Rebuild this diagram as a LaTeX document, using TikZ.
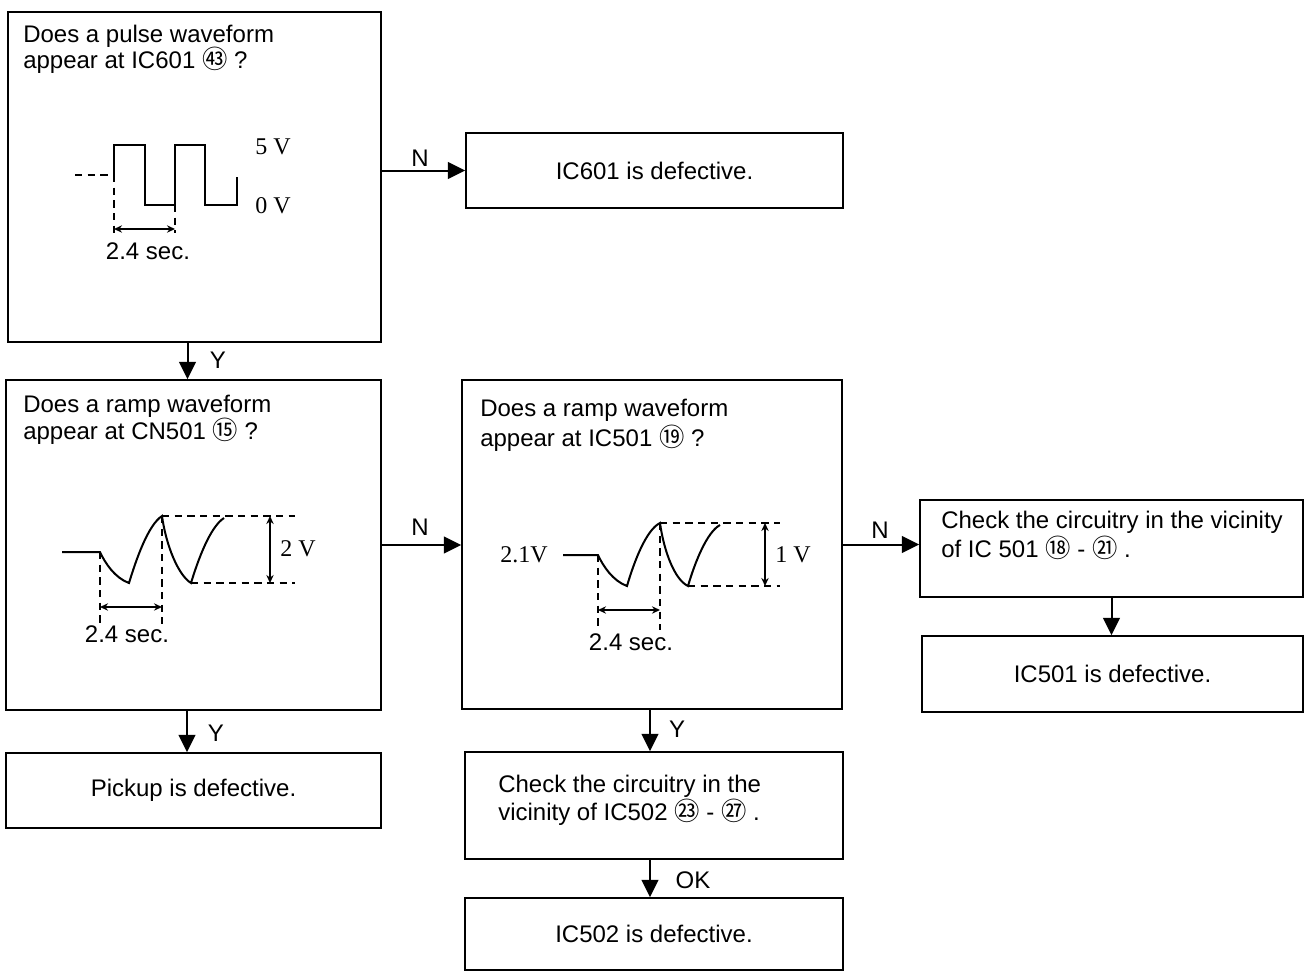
\documentclass[tikz,border=0pt]{standalone}
\usepackage{fontspec}
\setmainfont{Liberation Sans}
\newfontfamily\serf{Liberation Serif}
\newfontfamily\cjkc{Noto Sans CJK JP}
\usetikzlibrary{arrows.meta}
\newcommand\txtfont{\fontsize{18pt}{19.5pt}\selectfont}
\newcommand\encirc[1]{{\cjkc\fontsize{19pt}{20pt}\selectfont #1}}
\begin{document}
\begin{tikzpicture}[x=0.75pt,y=-0.75pt,
  bx/.style 2 args={draw, line width=1.2pt, minimum width=#1*0.75pt, minimum height=#2*0.75pt, inner sep=0pt, align=center, font=\txtfont},
  arr/.style={line width=1.5pt, -{Triangle[length=13pt,width=12.5pt]}},
  lbl/.style={font=\txtfont, inner sep=0pt},
  ln/.style={anchor=base west, font=\txtfont, inner sep=0pt},
  wave/.style={line width=1.5pt, line join=miter},
  dsh/.style={line width=1.1pt, dash pattern=on 5.5pt off 4pt},
  dim/.style={line width=1.1pt, {Stealth[length=6pt,width=5.5pt]}-{Stealth[length=6pt,width=5.5pt]}},
  vl/.style={font=\serf\fontsize{18pt}{19pt}\selectfont, inner sep=0pt}]
\useasboundingbox (0,0) rectangle (1310,978);

% boxes
\node[bx={373}{330}] (A) at (194.5,177) {};
\node[bx={377}{75}] (N1) at (654.5,170.5) {IC601 is defective.};
\node[bx={375}{330}] (B) at (193.5,545) {};
\node[bx={380}{329}] (C) at (652,544.5) {};
\node[bx={383}{97}] (D) at (1111.5,548.5) {};
\node[bx={381}{76}] (E) at (1112.5,674) {IC501 is defective.};
\node[bx={375}{75}] (F) at (193.5,790.5) {Pickup is defective.};
\node[bx={378}{107}] (G) at (654,805.5) {};
\node[bx={378}{72}] (H) at (654,934) {IC502 is defective.};

% box texts
\node[ln] (A1) at (23,42) {Does a pulse waveform};
\node[ln] (A2) at (23,68) {appear at IC601 \encirc{㊸} ?};
\node[ln] (B1) at (23,412) {Does a ramp waveform};
\node[ln] (B2) at (23,439) {appear at CN501 \encirc{⑮} ?};
\node[ln] (C1) at (480,416) {Does a ramp waveform};
\node[ln] (C2) at (480,446) {appear at IC501 \encirc{⑲} ?};
\node[ln] (D1) at (941,528) {Check the circuitry in the vicinity};
\node[ln] (D2) at (941,557) {of IC 501 \encirc{⑱} - \encirc{㉑} .};
\node[ln] (G1) at (498,792) {Check the circuitry in the};
\node[ln] (G2) at (498,820) {vicinity of IC502 \encirc{㉓} - \encirc{㉗} .};

% connectors
\draw[arr] (A.east |- N1.west) -- (N1.west);
\node[lbl] (lN1) at (420,158) {N};
\coordinate (a1) at ([xshift=-5.25pt]A.south);
\draw[arr] (a1) -- (a1 |- B.north);
\node[lbl] (lY1) at (218,360) {Y};
\draw[arr] (B.east) -- (B.east -| C.west);
\node[lbl] (lN2) at (420,527) {N};
\draw[arr] (C.east) -- (C.east -| D.west);
\node[lbl] (lN3) at (880,530) {N};
\draw[arr] (D.south) -- (D.south |- E.north);
\coordinate (b1) at ([xshift=-4.9pt]B.south);
\draw[arr] (b1) -- (b1 |- F.north);
\node[lbl] (lY2) at (216,733) {Y};
\coordinate (c1) at ([xshift=-1.5pt]C.south);
\draw[arr] (c1) -- (c1 |- G.north);
\node[lbl] (lY3) at (677,729) {Y};
\draw[arr] (c1 |- G.south) -- (c1 |- H.north);
\node[lbl] (lOK) at (693,880) {OK};

% pulse waveform
\draw[dsh] (75,175) -- (114,175);
\draw[wave] (114,175) -- (114,145) -- (145,145) -- (145,205) -- (175,205) -- (175,145) -- (205,145) -- (205,205) -- (237,205) -- (237,177);
\draw[dsh] (114,175) -- (114,233);
\draw[dsh] (175,205) -- (175,233);
\draw[dim] (114,229) -- (175,229);
\node[lbl] (pA) at (148,251) {2.4 sec.};
\node[vl] (v5) at (273,147) {5 V};
\node[vl] (v0) at (273,206) {0 V};

% ramp waveform B
\draw[wave] (62,552) -- (100,552) .. controls (105,563) and (115,578) .. (129,583)
  .. controls (136,560) and (148,525) .. (162,516)
  .. controls (166,545) and (178,575) .. (191,583)
  .. controls (198,560) and (210,527) .. (224,518);
\draw[dsh] (162,516) -- (295,516);
\draw[dsh] (191,583) -- (295,583);
\draw[dsh] (100,552) -- (100,624);
\draw[dsh] (162,516) -- (162,624);
\draw[dim] (100,607) -- (162,607);
\draw[dim] (270,516) -- (270,583);
\node[vl] (v2) at (298,549) {2 V};
\node[lbl] (pB) at (127,634) {2.4 sec.};

% ramp waveform C
\draw[wave] (563,555) -- (598,555) .. controls (603,566) and (613,581) .. (627,586)
  .. controls (634,562) and (646,530) .. (660,523)
  .. controls (664,552) and (675,580) .. (688,586)
  .. controls (695,562) and (707,532) .. (720,525);
\draw[dsh] (660,523) -- (780,523);
\draw[dsh] (688,586) -- (780,586);
\draw[dsh] (598,555) -- (598,630);
\draw[dsh] (660,523) -- (660,630);
\draw[dim] (598,610) -- (660,610);
\draw[dim] (765,523) -- (765,586);
\node[vl] (v1) at (793,555) {1 V};
\node[vl] (v21) at (524,555) {2.1V};
\node[lbl] (pC) at (631,642) {2.4 sec.};
\end{tikzpicture}
\end{document}
